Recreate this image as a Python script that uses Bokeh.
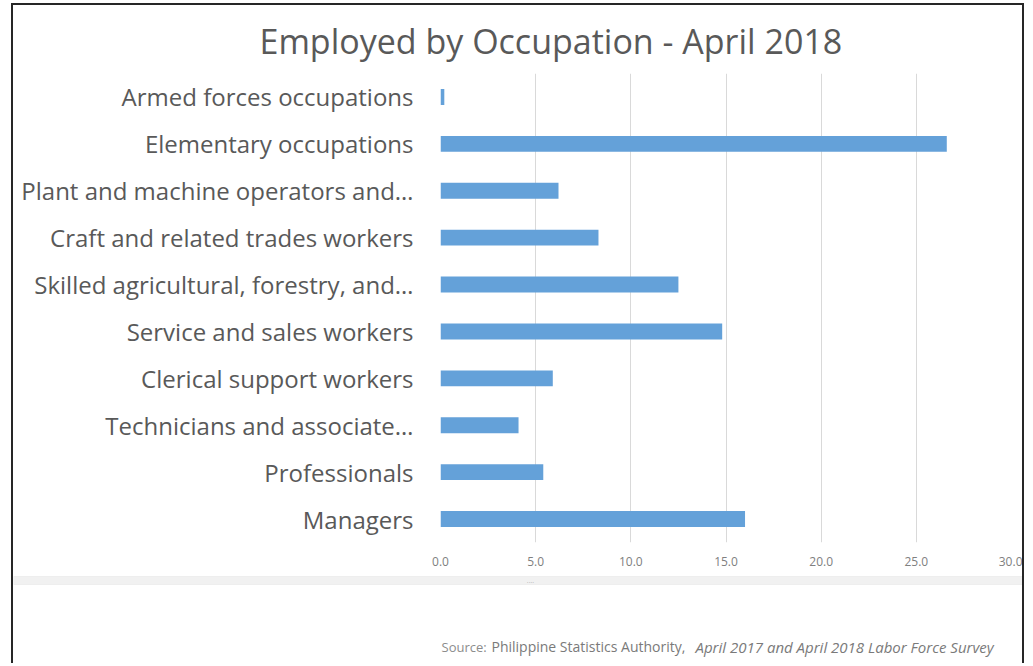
from bokeh.plotting import figure
from bokeh.layouts import column
from bokeh.models import (FactorRange, Range1d, FixedTicker, NumeralTickFormatter,
                          Label, BoxAnnotation)
from bokeh.embed import file_html
from bokeh.resources import INLINE

categories = [
    "Armed forces occupations",
    "Elementary occupations",
    "Plant and machine operators and…",
    "Craft and related trades workers",
    "Skilled agricultural, forestry, and…",
    "Service and sales workers",
    "Clerical support workers",
    "Technicians and associate…",
    "Professionals",
    "Managers",
]
values = [0.2, 26.6, 6.2, 8.3, 12.5, 14.8, 5.9, 4.1, 5.4, 16.0]
x_ticks = [0, 5, 10, 15, 20, 25, 30]

title_text = "Employed by Occupation - April 2018"
source_label = "Source:"
source_org = "Philippine Statistics Authority,"
source_survey = "April 2017 and April 2018 Labor Force Survey"

FONT = "Open Sans"
GRAY = "#595959"

W = 1009
p = figure(width=W, height=570, output_backend="svg", toolbar_location=None,
           y_range=FactorRange(factors=categories[::-1]),
           x_range=Range1d(0, 30),
           min_border_left=427, min_border_right=11, min_border_top=68,
           min_border_bottom=33)
p.frame_align = False
p.outline_line_color = None
p.background_fill_color = "white"
p.border_fill_color = "white"

p.title.text = title_text
p.title.text_font = FONT
p.title.text_font_size = "34px"
p.title.text_font_style = "normal"
p.title.text_color = GRAY
p.title.align = "left"
p.title.vertical_align = "top"
p.title.offset = -181
p.title.standoff = 16

p.hbar(y=categories, right=values, left=0, height=0.34, color="#64a1d9", line_color=None)

# axes
p.xaxis.ticker = FixedTicker(ticks=x_ticks)
p.xaxis.formatter = NumeralTickFormatter(format="0.0")
p.xaxis.axis_line_color = None
p.xaxis.major_tick_line_color = None
p.xaxis.minor_tick_line_color = None
p.xaxis.major_label_text_font = FONT
p.xaxis.major_label_text_font_size = "12px"
p.xaxis.major_label_text_color = "#808080"
p.xaxis.major_label_standoff = 8

p.yaxis.axis_line_color = None
p.yaxis.major_tick_line_color = None
p.yaxis.minor_tick_line_color = None
p.yaxis.major_label_text_font = FONT
p.yaxis.major_label_text_font_size = "24px"
p.yaxis.major_label_text_color = GRAY
p.yaxis.major_label_standoff = 21

p.xgrid.grid_line_color = "#d9d9d9"
p.ygrid.grid_line_color = None

# footer: separator band and source line
FH = 88
foot = figure(width=W, height=FH, output_backend="svg", toolbar_location=None,
              x_range=Range1d(0, W), y_range=Range1d(FH, 0),
              x_axis_location=None, y_axis_location=None,
              min_border=0)
foot.frame_align = False
foot.outline_line_color = None
foot.grid.grid_line_color = None
foot.add_layout(BoxAnnotation(left=0, right=W, top=1, bottom=9,
                              fill_color="#f1f1f1", fill_alpha=1,
                              line_color="#d6d6d6", line_width=1))
foot.add_layout(Label(x=517, y=7, text="····", text_font=FONT, text_font_size="7px",
                      text_color="#aaaaaa", text_align="center", text_baseline="middle"))
foot.add_layout(Label(x=428, y=71, text=source_label, text_font=FONT,
                      text_font_size="13px", text_color="#8c8c8c",
                      text_align="left", text_baseline="middle"))
foot.add_layout(Label(x=478, y=71, text=source_org, text_font=FONT,
                      text_font_size="14px", text_color="#7a7a7a",
                      text_align="left", text_baseline="middle"))
foot.add_layout(Label(x=682, y=71, text=source_survey, text_font=FONT,
                      text_font_size="15px", text_font_style="italic",
                      text_color="#7a7a7a", text_align="left", text_baseline="middle"))

layout = column(p, foot, spacing=0,
                styles={"border-left": "2px solid #262626",
                        "border-right": "2px solid #262626",
                        "border-top": "2px solid #262626",
                        "margin-left": "11px", "margin-top": "3px"})

open("out.html", "w").write(file_html(layout, INLINE))
